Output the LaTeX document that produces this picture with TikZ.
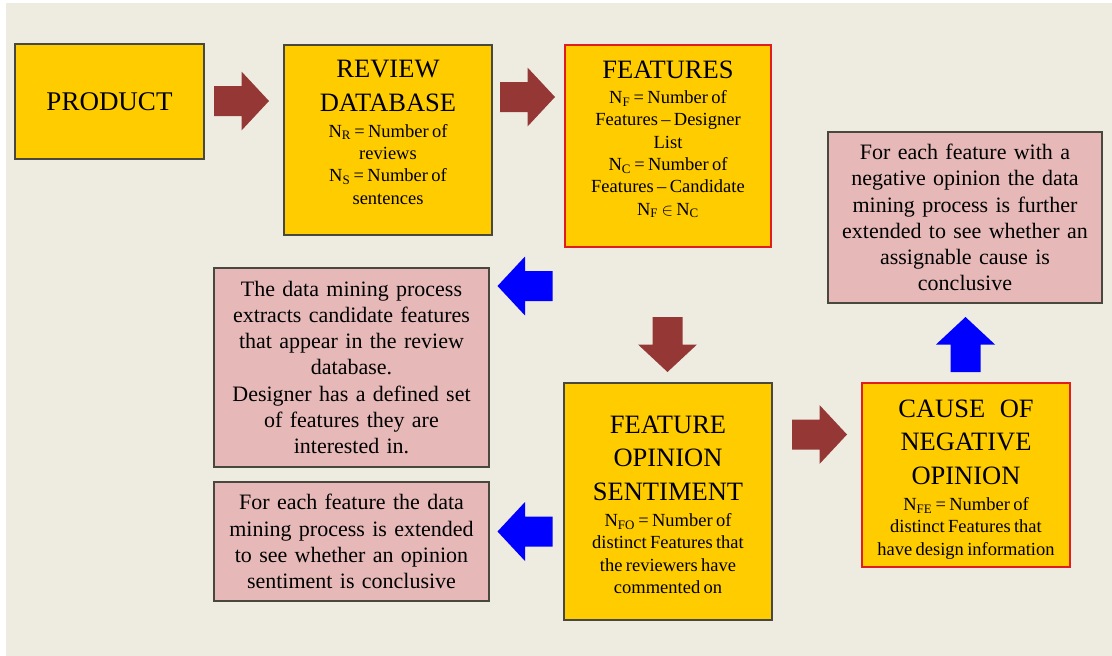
\documentclass[tikz,border=0pt]{standalone}
\usepackage{fontspec}
\setmainfont{Liberation Serif}
\definecolor{bg}{RGB}{238,236,225}
\definecolor{boxyellow}{RGB}{255,204,0}
\definecolor{boxpink}{RGB}{230,185,184}
\definecolor{boxgray}{RGB}{72,72,62}
\definecolor{boxred}{RGB}{225,30,30}
\definecolor{maroonc}{RGB}{149,55,53}
\definecolor{arrowblue}{RGB}{0,0,255}
\newcommand{\ttlfont}{\rmfamily\fontsize{26.5}{33.5}\selectfont}
\newcommand{\subfont}{\rmfamily\fontsize{18.5}{22.3}\selectfont}
\newcommand{\notefont}{\rmfamily\fontsize{22}{26.2}\selectfont}
\tikzset{
  ybox/.style={draw=boxgray, line width=1.1pt, fill=boxyellow, inner sep=0pt},
  rbox/.style={ybox, draw=boxred},
  pbox/.style={draw=boxgray, line width=1.1pt, fill=boxpink, inner sep=0pt,
    align=center, text width=262pt, font=\notefont},
  boxtext/.style={inner sep=0pt, align=center, text width=200pt},
  blockarrow/.pic={\path[pic actions] (-27.5,-15) -- (0,-15) -- (0,-29.5) -- (27.5,0)
     -- (0,29.5) -- (0,15) -- (-27.5,15) -- cycle;}
}
\begin{document}
\begin{tikzpicture}[x=1pt,y=-1pt]
\fill[white] (0,0) rectangle (1112,656);
\fill[bg] (6,3) rectangle (1112,656);
\useasboundingbox (0,0) rectangle (1112,656);

% boxes
\node[ybox, minimum width=189pt, minimum height=115pt, font=\rmfamily\fontsize{27}{33}\selectfont]
  (product) at (109.5,101.5) {PRODUCT};

\node[ybox, minimum width=208pt, minimum height=190pt] (review) at (388,140) {};
\node[boxtext, anchor=north] (reviewtext) at (388,60)
  {{\ttlfont REVIEW\\DATABASE\par}\vspace{4pt}%
   {\subfont N\textsubscript{R} = Number of\\reviews\\N\textsubscript{S} = Number of\\sentences\par}};

\node[rbox, minimum width=206pt, minimum height=202pt] (features) at (668,146) {};
\node[boxtext, anchor=north] (featurestext) at (668,60.5)
  {{\ttlfont FEATURES\par}\vspace{3pt}%
   {\subfont N\textsubscript{F} = Number of\\Features – Designer\\List\\N\textsubscript{C} = Number of\\Features – Candidate\\N\textsubscript{F} $\in$ N\textsubscript{C}\par}};

\node[pbox, minimum width=274pt, minimum height=171pt] (causenote) at (965,217.5)
  {For each feature with a\\negative opinion the data\\mining process is further\\extended to see whether an\\assignable cause is\\conclusive};

\node[pbox, minimum width=275pt, minimum height=199pt] (extractnote) at (351.5,367.5)
  {The data mining process\\extracts candidate features\\that appear in the review\\database.\\Designer has a defined set\\of features they are\\interested in.};

\node[pbox, minimum width=275pt, minimum height=119pt] (sentnote) at (351.5,541.5)
  {For each feature the data\\mining process is extended\\to see whether an opinion\\sentiment is conclusive};

\node[ybox, minimum width=208pt, minimum height=237pt] (fos) at (668,501.5) {};
\node[boxtext, anchor=north] (fostext) at (668,415.5)
  {{\ttlfont FEATURE\\OPINION\\SENTIMENT\par}\vspace{4pt}%
   {\subfont N\textsubscript{FO} = Number of\\distinct Features that\\the reviewers have\\commented on\par}};

\node[rbox, minimum width=208pt, minimum height=184pt] (cause) at (966,475) {};
\node[boxtext, anchor=north] (causetext) at (966,399.5)
  {{\ttlfont CAUSE\hspace{0.55em}OF\\NEGATIVE\\OPINION\par}\vspace{4pt}%
   {\subfont N\textsubscript{FE} = Number of\\distinct Features that\\have design information\par}};

% block arrows
\pic[fill=maroonc] at (241.5,101) {blockarrow};
\pic[fill=maroonc] at (527.5,97) {blockarrow};
\pic[fill=maroonc, rotate=-90] at (667.5,344.5) {blockarrow};
\pic[fill=maroonc] at (819.5,434.5) {blockarrow};
\pic[fill=arrowblue, rotate=90] at (965.5,344.5) {blockarrow};
\pic[fill=arrowblue, rotate=180] at (525,286) {blockarrow};
\pic[fill=arrowblue, rotate=180] at (525,531.5) {blockarrow};
\end{tikzpicture}
\end{document}
